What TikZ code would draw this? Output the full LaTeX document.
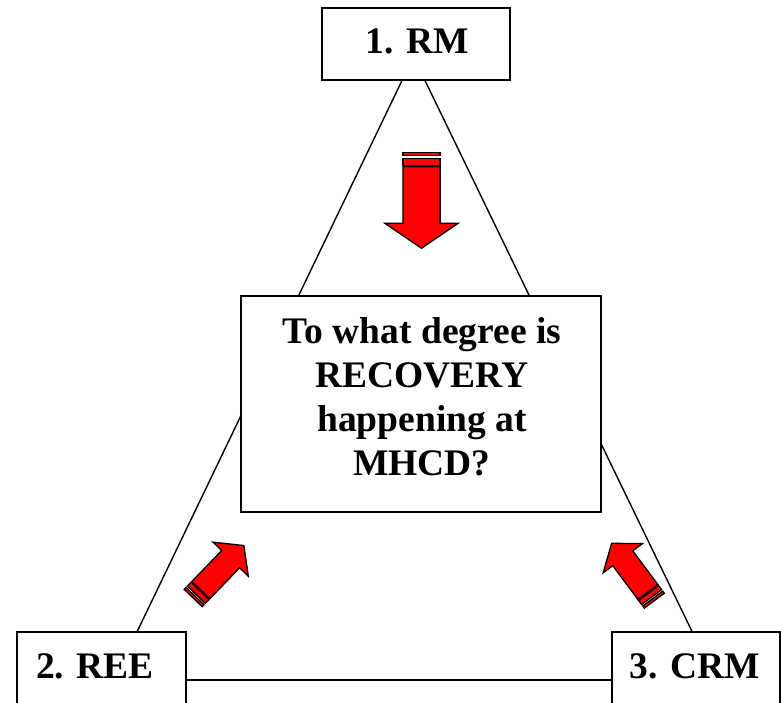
\documentclass[tikz,border=0pt]{standalone}
\usepackage{fontspec}
\setmainfont{Liberation Serif}
\usetikzlibrary{calc}
\tikzset{
  boxst/.style={draw=black, line width=1.5pt, fill=white, inner sep=0pt},
  sidest/.style={draw=black, line width=1.4pt},
  lbl/.style={font=\fontsize{37.5}{44}\selectfont\bfseries, inner sep=0pt},
  arrowst/.style={draw=black, fill=red, line width=1.3pt, line join=miter},
}
\newcommand\stripedarrow[4]{%
  \begin{scope}[shift={#1}, rotate=#2, xscale=#3, yscale=#4]
    \filldraw[arrowst] (0,-18.6) rectangle (3.5,18.6);
    \filldraw[arrowst] (6,-18.6) rectangle (13,18.6);
    \filldraw[arrowst] (14.5,-18.6) -- (71,-18.6) -- (71,-36.6) -- (96,0)
      -- (71,36.6) -- (71,18.6) -- (14.5,18.6) -- cycle;
  \end{scope}}
\begin{document}
\begin{tikzpicture}[x=1pt, y=-1pt]
\useasboundingbox (0,0) rectangle (781,703);
\clip (0,0) rectangle (781,703);
% boxes
\node[boxst, minimum width=188pt, minimum height=72pt] (b1) at (416,44) {};
\node[boxst, minimum width=169pt, minimum height=96pt] (b2) at (101.5,680) {};
\node[boxst, minimum width=168pt, minimum height=96pt] (b3) at (696,680) {};
% triangle sides
\coordinate (t1) at ($(b1.south west)!0.4255!(b1.south east)$);
\coordinate (t2) at ($(b1.south west)!0.548!(b1.south east)$);
\coordinate (l2) at ($(b2.north west)!0.71!(b2.north east)$);
\coordinate (r3) at ($(b3.north west)!0.476!(b3.north east)$);
\draw[sidest] (t1) -- (l2);
\draw[sidest] (t2) -- (r3);
\draw[sidest] (b2.east) -- (b3.west);
% box texts
\node[lbl, anchor=base] (b1t) at (417.5,54) {1. RM};
\node[lbl, anchor=base] (b2t) at (95,678) {2. REE};
\node[lbl, anchor=base] (b3t) at (694.5,678) {3. CRM};
% central box
\node[boxst, minimum width=360pt, minimum height=216pt] (q) at (421,404) {};
\node[lbl, align=center] (qt) at (422,396.5) {To what degree is\\RECOVERY\\happening at\\MHCD?};
% arrows
\stripedarrow{(421.5,152.3)}{-90}{1}{1}
\stripedarrow{(193.2,598)}{46}{0.76}{0.67}
\stripedarrow{(654.3,600.7)}{126.6}{0.745}{0.67}
\end{tikzpicture}
\end{document}
